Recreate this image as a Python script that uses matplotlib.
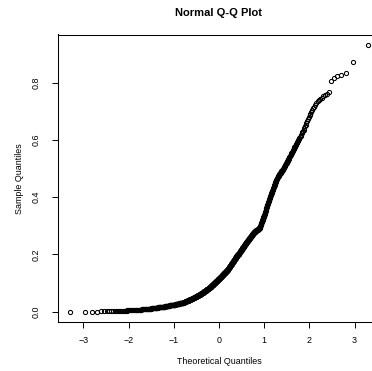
import numpy as np
import matplotlib
matplotlib.use("Agg")
import matplotlib.pyplot as plt
from statistics import NormalDist

# sorted sample values, in thousandths (n = 1000)
sample_milli = [
    # up to q = -2
    0, 0, 0, 0, 1, 1, 1, 1, 2, 2, 2, 2, 2, 3, 3, 3, 3, 4, 4, 4, 4, 5, 5,
    # -2 .. -1.5
    5, 5, 5, 5, 5, 5, 6, 6, 6, 6, 6, 6, 6, 7, 7, 7, 7, 7, 7, 7,
    8, 8, 8, 8, 8, 8, 8, 9, 9, 9, 9, 9, 9, 10, 10, 10, 10, 10, 10,
    11, 11, 11, 11, 11,
    # -1.5 .. -1
    12, 12, 12, 12, 12, 12, 12, 13, 13, 13, 13, 13, 13, 13,
    14, 14, 14, 14, 14, 14, 14, 15, 15, 15, 15, 15, 15, 15,
    16, 16, 16, 16, 16, 16, 16, 17, 17, 17, 17, 17, 17, 17,
    18, 18, 18, 18, 18, 18, 18, 19, 19, 19, 19, 19, 19, 19,
    20, 20, 20, 20, 20, 20, 20, 21, 21, 21, 21, 21, 21, 21,
    22, 22, 22, 22, 22, 22, 22, 23, 23, 23, 23, 23, 23, 23,
    24, 24, 24, 24, 24, 24, 24, 24,
    # -1 .. -0.8
    25, 25, 25, 25, 25, 25, 25, 25, 26, 26, 26, 26, 26, 26, 26, 26,
    27, 27, 27, 27, 27, 27, 27, 28, 28, 28, 28, 28, 28, 28, 28,
    29, 29, 29, 29, 29, 29, 29, 30, 30, 30, 30, 30, 30, 30, 30,
    31, 31, 31, 31, 31, 31, 31,
    # -0.8 .. -0.6
    32, 32, 32, 32, 32, 33, 33, 33, 33, 34, 34, 34, 34, 34, 35, 35, 35, 35,
    36, 36, 36, 36, 36, 37, 37, 37, 37, 38, 38, 38, 38, 38, 39, 39, 39, 39,
    40, 40, 40, 40, 40, 41, 41, 41, 41, 42, 42, 42, 42, 42, 43, 43, 43, 43,
    44, 44, 44, 44, 45, 45, 45, 45,
    # -0.6 .. -0.4
    46, 46, 46, 46, 46, 47, 47, 47, 47, 47, 48, 48, 48, 48, 48,
    49, 49, 49, 49, 50, 50, 50, 50, 51, 51, 51, 51, 52, 52, 52, 52,
    53, 53, 53, 53, 54, 54, 54, 54, 55, 55, 55, 55, 56, 56, 56, 56,
    57, 57, 57, 57, 58, 58, 58, 58, 59, 59, 59, 59, 60, 60, 60, 60,
    61, 61, 61, 61, 62, 62, 62, 62,
    # -0.4 .. -0.2
    63, 63, 63, 63, 64, 64, 64, 65, 65, 65, 66, 66, 66, 66, 67, 67, 67,
    68, 68, 68, 69, 69, 69, 69, 70, 70, 70, 71, 71, 71, 72, 72, 72, 72,
    73, 73, 73, 74, 74, 74, 75, 75, 75, 75, 76, 76, 76, 77, 77, 77,
    78, 78, 78, 78, 79, 79, 79, 80, 80, 80, 81, 81, 81, 81, 82, 82, 82,
    83, 83, 83, 84, 84, 84, 85, 85, 85,
    # -0.2 .. 0
    86, 86, 86, 87, 87, 87, 88, 88, 89, 89, 89, 90, 90, 90, 91, 91,
    92, 92, 92, 93, 93, 93, 94, 94, 95, 95, 95, 96, 96, 96, 97, 97,
    98, 98, 98, 99, 99, 99, 100, 100, 101, 101, 101, 102, 102, 102, 103, 103,
    104, 104, 104, 105, 105, 105, 106, 106, 107, 107, 107, 108, 108, 108,
    109, 109, 110, 110, 110, 111, 111, 111, 112, 112, 113, 113, 113,
    114, 114, 115, 115,
    # 0 .. 0.2
    116, 116, 116, 117, 117, 117, 118, 118, 118,
    119, 119, 119, 120, 120, 121, 121, 122, 122, 122, 123, 123, 124, 124,
    125, 125, 125, 126, 126, 127, 127, 128, 128, 128, 129, 129, 130, 130,
    131, 131, 131, 132, 132, 133, 133, 134, 134, 134, 135, 135, 136, 136,
    137, 137, 137, 138, 138, 139, 139, 140, 140, 140, 141, 141, 142, 142,
    143, 143, 143, 144, 144, 145, 145, 146, 146, 146, 147, 147, 148, 148,
    # 0.2 .. 0.4
    149, 149, 150, 150, 151, 152, 152, 153, 153, 154, 155, 155, 156, 156, 157,
    158, 158, 159, 159, 160, 161, 161, 162, 162, 163, 164, 164, 165, 165, 166,
    167, 167, 168, 168, 169, 170, 170, 171, 171, 172, 173, 173, 174, 174, 175,
    176, 176, 177, 177, 178, 179, 179, 180, 181, 181, 182, 183, 183, 184,
    185, 185, 186, 187, 187, 188, 189, 189, 190, 191, 191, 192, 193, 193, 194,
    195, 195,
    # 0.4 .. 0.6
    196, 196, 197, 197, 198, 198, 199, 199, 200, 200, 201, 201, 202, 202,
    203, 203, 204, 205, 205, 206, 207, 207, 208, 209, 209, 210, 211, 211, 212,
    213, 213, 214, 215, 215, 216, 217, 217, 218, 219, 219, 220, 221, 221, 222,
    223, 223, 224, 225, 225, 226, 227, 227, 228, 229, 229, 230, 231, 231, 232,
    233, 233, 234, 235, 235, 236, 237, 237, 238, 239, 239, 240,
    # 0.6 .. 0.8
    241, 241, 242, 243, 243, 244, 245, 245, 246, 247, 247, 248, 249, 249, 250,
    251, 251, 252, 253, 253, 254, 255, 255, 256, 257, 257, 258, 259, 259, 260,
    261, 261, 262, 263, 263, 264, 265, 265, 266, 267, 267, 268, 269, 269, 270,
    271, 271, 272, 273, 273, 274, 275, 275, 276, 277, 277, 278, 278, 279, 279,
    280, 280,
    # 0.8 .. 0.9
    281, 281, 282, 282, 283, 283, 283, 284, 284, 285, 285, 286, 286, 286,
    287, 287, 288, 288, 289, 289, 289, 290, 290, 291, 291, 292, 292, 292,
    # 0.9 .. 1.0
    294, 296, 297, 299, 301, 302, 304, 306, 308, 309, 311, 313, 315, 316,
    318, 320, 322, 323, 325, 327, 329, 330, 332, 334, 335,
    # 1.0 .. 1.3
    337, 339, 341, 343, 346, 348, 350, 352, 354, 357, 359, 361, 363, 365,
    368, 370, 372, 374, 376, 379, 381, 383, 385,
    387, 389, 391, 393, 396, 398, 400, 402, 404, 406, 409, 411, 413, 415,
    417, 419, 421, 423, 426, 428, 430,
    432, 434, 436, 439, 441, 443, 445, 448, 450, 452, 454, 457, 459, 461,
    463, 465, 468, 470,
    # 1.3 .. 2.0
    471, 473, 474, 475, 477, 478, 480, 481, 483, 484, 485, 487, 488, 490,
    491, 492,
    494, 496, 498, 500, 502, 504, 506, 508, 510, 512, 514, 516, 518, 520,
    523, 525, 528, 530, 533, 535, 538, 540, 543, 545, 548, 550,
    553, 556, 559, 562, 565, 568, 571, 574, 577, 580,
    583, 587, 590, 593, 597, 600, 603, 607, 610,
    614, 618, 623, 627, 631, 636, 640,
    # upper tail
    647, 653, 660, 667, 673, 680,
    686, 692, 698, 704, 710,
    716, 722, 728, 735,
    740, 744, 748, 752, 757, 762, 768,
    805, 815, 822, 828, 833, 872, 931,
]

x_ticks = [-3, -2, -1, 0, 1, 2, 3]
y_ticks = [0.0, 0.2, 0.4, 0.6, 0.8]

sample = np.sort(np.array(sample_milli) / 1000.0)
n = len(sample)
# R's ppoints / qnorm
probs = (np.arange(1, n + 1) - 0.5) / n
theo = np.array([NormalDist().inv_cdf(p) for p in probs])

plt.rcParams["font.family"] = ["Liberation Sans", "DejaVu Sans"]

W, H = 372, 371
fig = plt.figure(figsize=(W / 100, H / 100), dpi=100)
left, right, top, bottom = 58.3, 379.6, 34.5, 322.4
ax = fig.add_axes([left / W, 1 - bottom / H, (right - left) / W, (bottom - top) / H])

ax.plot(theo, sample, linestyle="none", marker="o", markersize=3.0,
        markerfacecolor="none", markeredgecolor="black", markeredgewidth=0.75)
ax.margins(x=0.04, y=0.04)

ax.set_xticks(x_ticks)
ax.set_xticklabels(["\u22123", "\u22122", "\u22121", "0", "1", "2", "3"])
ax.set_yticks(y_ticks)
ax.set_yticklabels(["0.0", "0.2", "0.4", "0.6", "0.8"], rotation=90, va="center")
ax.tick_params(axis="both", length=4, width=0.7, labelsize=6.4, colors="black")
ax.tick_params(axis="x", pad=5.5)
ax.tick_params(axis="y", pad=8.5)
for s in ax.spines.values():
    s.set_linewidth(0.75)
    s.set_color("black")

ax.set_xlabel("Theoretical Quantiles", fontsize=6.4)
ax.xaxis.set_label_coords(0.5, (bottom - 362) / (bottom - top))
ax.xaxis.label.set_va("center")
ax.set_ylabel("Sample Quantiles", fontsize=6.4)
ax.yaxis.set_label_coords((20 - left) / (right - left), 0.5)
ax.yaxis.label.set_va("center")
ax.text(0.5, (bottom - 13) / (bottom - top), "Normal Q-Q Plot", transform=ax.transAxes,
        ha="center", va="center", fontsize=8, fontweight="bold")

fig.savefig("out.png", dpi=100)
